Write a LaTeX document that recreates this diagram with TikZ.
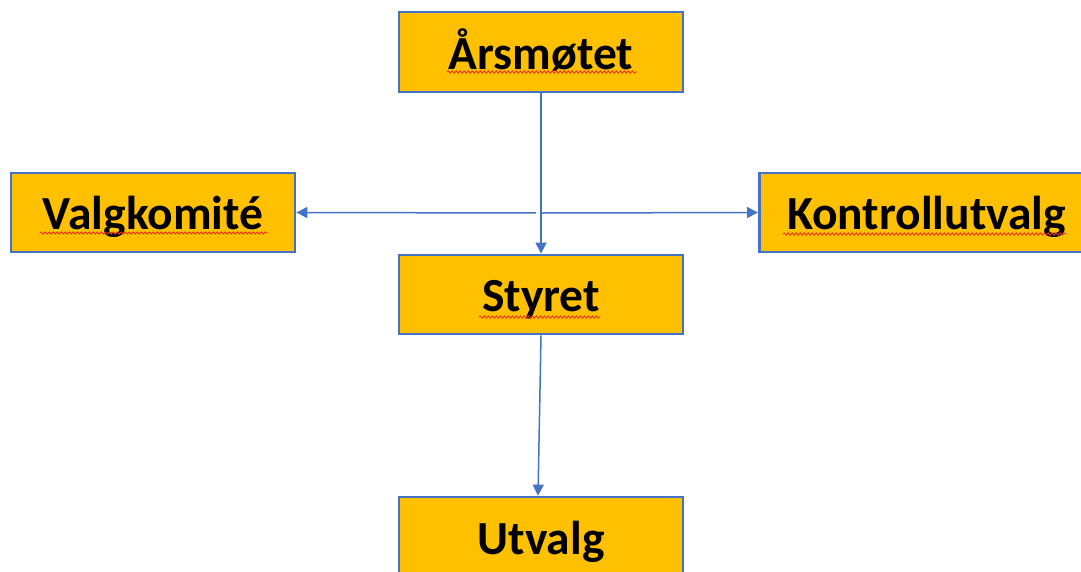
\documentclass[tikz,border=0pt]{standalone}
\usepackage{fontspec}
\setmainfont{Carlito}
\usetikzlibrary{arrows.meta,decorations.pathmorphing}
\definecolor{boxfill}{HTML}{FFC000}
\definecolor{boxline}{HTML}{4472C4}
\definecolor{wavy}{HTML}{E8341C}
\begin{document}
\begin{tikzpicture}[x=1pt,y=-1pt,
  orgbox/.style={draw=boxline,line width=2.8pt,fill=boxfill,inner sep=0pt,
    font=\fontsize{47.5}{52}\bfseries\selectfont,text height=36pt,text depth=2pt,align=center},
  conn/.style={draw=boxline,line width=1.5pt,-{Triangle[length=11pt,width=11pt]}},
  spell/.style={draw=wavy,line width=0.9pt,decorate,decoration={snake,amplitude=1.1pt,segment length=4pt}}]
\useasboundingbox (0,0) rectangle (1081,571);
\node[orgbox,minimum width=284pt,minimum height=80pt] (aars) at (541,52) {Årsmøtet};
\node[orgbox,minimum width=284pt,minimum height=79pt] (valg) at (153,212.5) {Valgkomité};
\node[orgbox,minimum width=334pt,minimum height=79pt,anchor=west] (kontroll) at (758,212.5) {Kontrollutvalg};
\node[orgbox,minimum width=284pt,minimum height=79pt] (styret) at (541,294.5) {Styret};
\node[orgbox,minimum width=284pt,minimum height=80pt] (utvalg) at (541,537) {Utvalg};
\coordinate (cross) at (541,213);
\draw[conn] (aars.south) -- (styret.north);
\draw[conn,shorten <=5pt] (cross) -- (valg.east);
\draw[conn,shorten <=1pt] (cross) -- (kontroll.west);
\draw[conn] (styret.south) -- ([xshift=-3pt]utvalg.north);
\draw[spell] (447,72) -- (637,72);
\draw[spell] (40,233) -- (268,233);
\draw[spell] (783,234) -- (1067,234);
\draw[spell] (479,317) -- (600,317);
\end{tikzpicture}
\end{document}
